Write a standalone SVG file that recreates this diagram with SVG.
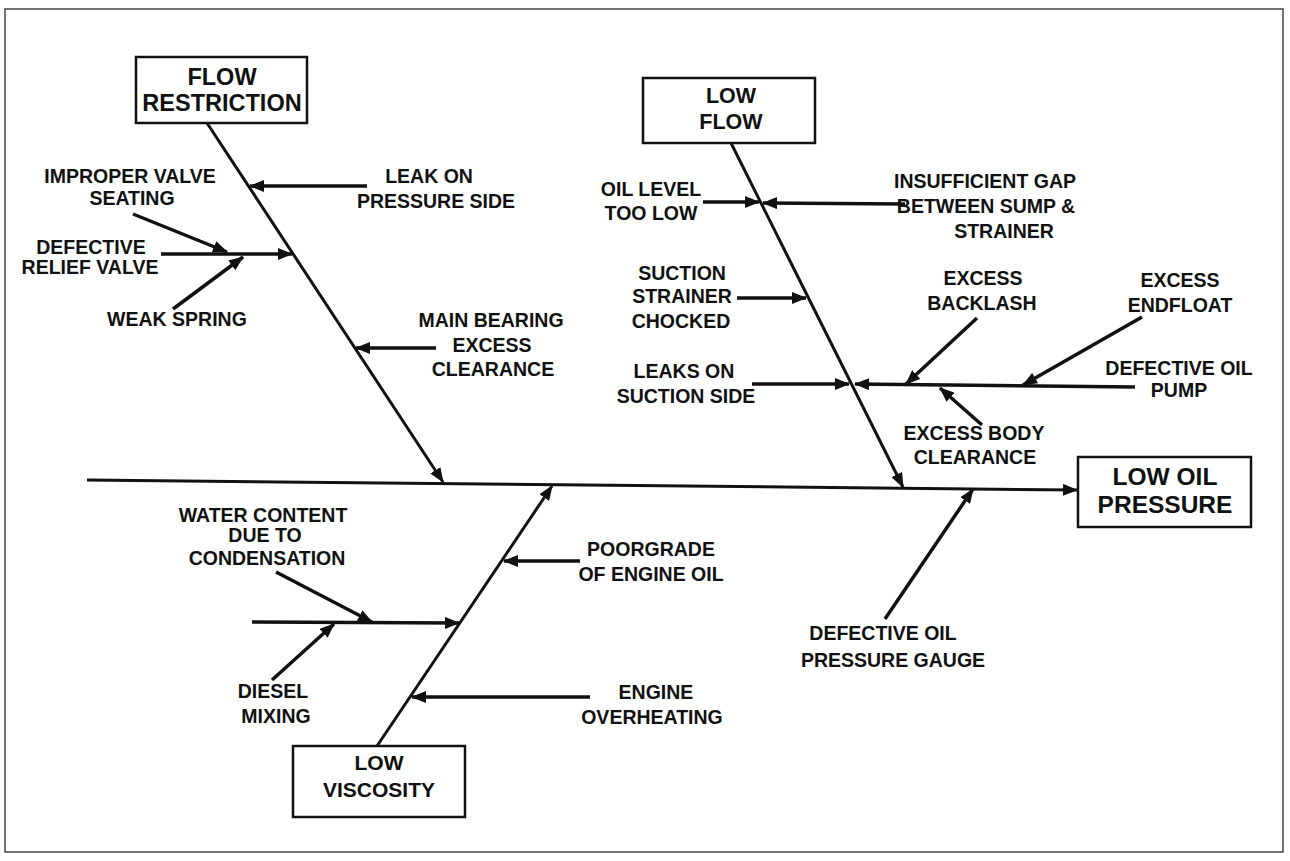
<svg xmlns="http://www.w3.org/2000/svg" width="1290" height="861" viewBox="0 0 1290 861">
<defs>
<marker id="ah" markerUnits="userSpaceOnUse" markerWidth="15" markerHeight="12" refX="14" refY="6" orient="auto">
<path d="M0,0 L15,6 L0,12 z" fill="#111"/>
</marker>
<style>
text{font-family:"Liberation Sans",Arial,sans-serif;font-weight:bold;fill:#111;text-anchor:middle}
.lbl{font-size:19.5px}
.box{fill:#fff;stroke:#111;stroke-width:2.5}
.arr{stroke:#111;stroke-width:3.5;fill:none;marker-end:url(#ah)}
.bone{stroke:#111;stroke-width:3;fill:none;marker-end:url(#ah)}
</style>
</defs>
<rect x="5" y="9" width="1278" height="843" fill="#fff" stroke="#444" stroke-width="1.5"/>

<g id="connectors">
<line class="bone" x1="87" y1="480" x2="1077" y2="490"/>
<line class="bone" x1="207" y1="123" x2="443" y2="482"/>
<line class="bone" x1="731" y1="143" x2="903" y2="487"/>
<line class="bone" x1="377" y1="746" x2="552" y2="486"/>
<line class="arr" x1="367" y1="186" x2="250" y2="186"/>
<line class="arr" x1="161" y1="254" x2="292" y2="254"/>
<line class="arr" x1="133" y1="214" x2="227" y2="252"/>
<line class="arr" x1="173" y1="309" x2="243" y2="257"/>
<line class="arr" x1="436" y1="348" x2="356" y2="348"/>
<line class="arr" x1="703" y1="202" x2="759" y2="202"/>
<line class="arr" x1="905" y1="204" x2="763" y2="203"/>
<line class="arr" x1="737" y1="298" x2="806" y2="298"/>
<line class="arr" x1="752" y1="384" x2="849" y2="384"/>
<line class="arr" x1="1135" y1="387" x2="855" y2="384"/>
<line class="arr" x1="977" y1="318" x2="906" y2="384"/>
<line class="arr" x1="1142" y1="317" x2="1023" y2="385"/>
<line class="arr" x1="982" y1="425" x2="940" y2="388"/>
<line class="arr" x1="580" y1="561" x2="504" y2="561"/>
<line class="arr" x1="252" y1="622" x2="459" y2="623"/>
<line class="arr" x1="276" y1="572" x2="372" y2="622"/>
<line class="arr" x1="272" y1="680" x2="334" y2="624"/>
<line class="arr" x1="590" y1="697" x2="412" y2="697"/>
<line class="arr" x1="885" y1="619" x2="973" y2="489"/>
</g>

<g id="flow-restriction">
<rect class="box" x="136" y="57" width="171" height="66"/>
<text x="222" y="85" font-size="23.5">FLOW</text>
<text x="222" y="111" font-size="23.5">RESTRICTION</text>
</g>
<g id="low-flow">
<rect class="box" x="643" y="78" width="172" height="65"/>
<text x="731" y="103" font-size="21.5">LOW</text>
<text x="731" y="129" font-size="21.5">FLOW</text>
</g>
<g id="low-oil-pressure">
<rect class="box" x="1078" y="457" width="173" height="70"/>
<text x="1165" y="485" font-size="24.5">LOW OIL</text>
<text x="1165" y="513" font-size="24.5">PRESSURE</text>
</g>
<g id="low-viscosity">
<rect class="box" x="293" y="746" width="172" height="71"/>
<text x="379" y="770" font-size="21">LOW</text>
<text x="379" y="797" font-size="21">VISCOSITY</text>
</g>

<g id="leak-pressure-side" class="lbl"><text x="429" y="183">LEAK ON</text><text x="436" y="208">PRESSURE SIDE</text></g>
<g id="improper-valve-seating" class="lbl"><text x="130" y="183">IMPROPER VALVE</text><text x="132" y="205">SEATING</text></g>
<g id="defective-relief-valve" class="lbl"><text x="91" y="254">DEFECTIVE</text><text x="90" y="274">RELIEF VALVE</text></g>
<g id="weak-spring" class="lbl"><text x="177" y="326">WEAK SPRING</text></g>
<g id="main-bearing" class="lbl"><text x="491" y="327">MAIN BEARING</text><text x="492" y="352">EXCESS</text><text x="493" y="376">CLEARANCE</text></g>
<g id="oil-level" class="lbl"><text x="651" y="196">OIL LEVEL</text><text x="651" y="220">TOO LOW</text></g>
<g id="insufficient-gap" class="lbl"><text x="985" y="188">INSUFFICIENT GAP</text><text x="986" y="213">BETWEEN SUMP &amp;</text><text x="1004" y="238">STRAINER</text></g>
<g id="suction-strainer" class="lbl"><text x="682" y="280">SUCTION</text><text x="682" y="303">STRAINER</text><text x="681" y="328">CHOCKED</text></g>
<g id="leaks-suction-side" class="lbl"><text x="684" y="378">LEAKS ON</text><text x="686" y="403">SUCTION SIDE</text></g>
<g id="excess-backlash" class="lbl"><text x="983" y="285">EXCESS</text><text x="982" y="310">BACKLASH</text></g>
<g id="excess-endfloat" class="lbl"><text x="1180" y="287">EXCESS</text><text x="1180" y="312">ENDFLOAT</text></g>
<g id="defective-oil-pump" class="lbl"><text x="1179" y="375">DEFECTIVE OIL</text><text x="1179" y="397">PUMP</text></g>
<g id="excess-body-clearance" class="lbl"><text x="974" y="440">EXCESS BODY</text><text x="975" y="464">CLEARANCE</text></g>
<g id="poorgrade" class="lbl"><text x="651" y="556">POORGRADE</text><text x="651" y="581">OF ENGINE OIL</text></g>
<g id="water-content" class="lbl"><text x="263" y="522">WATER CONTENT</text><text x="265" y="542">DUE TO</text><text x="267" y="565">CONDENSATION</text></g>
<g id="diesel-mixing" class="lbl"><text x="273" y="698">DIESEL</text><text x="276" y="723">MIXING</text></g>
<g id="engine-overheating" class="lbl"><text x="656" y="699">ENGINE</text><text x="652" y="724">OVERHEATING</text></g>
<g id="defective-gauge" class="lbl"><text x="883" y="640">DEFECTIVE OIL</text><text x="893" y="667">PRESSURE GAUGE</text></g>
</svg>
